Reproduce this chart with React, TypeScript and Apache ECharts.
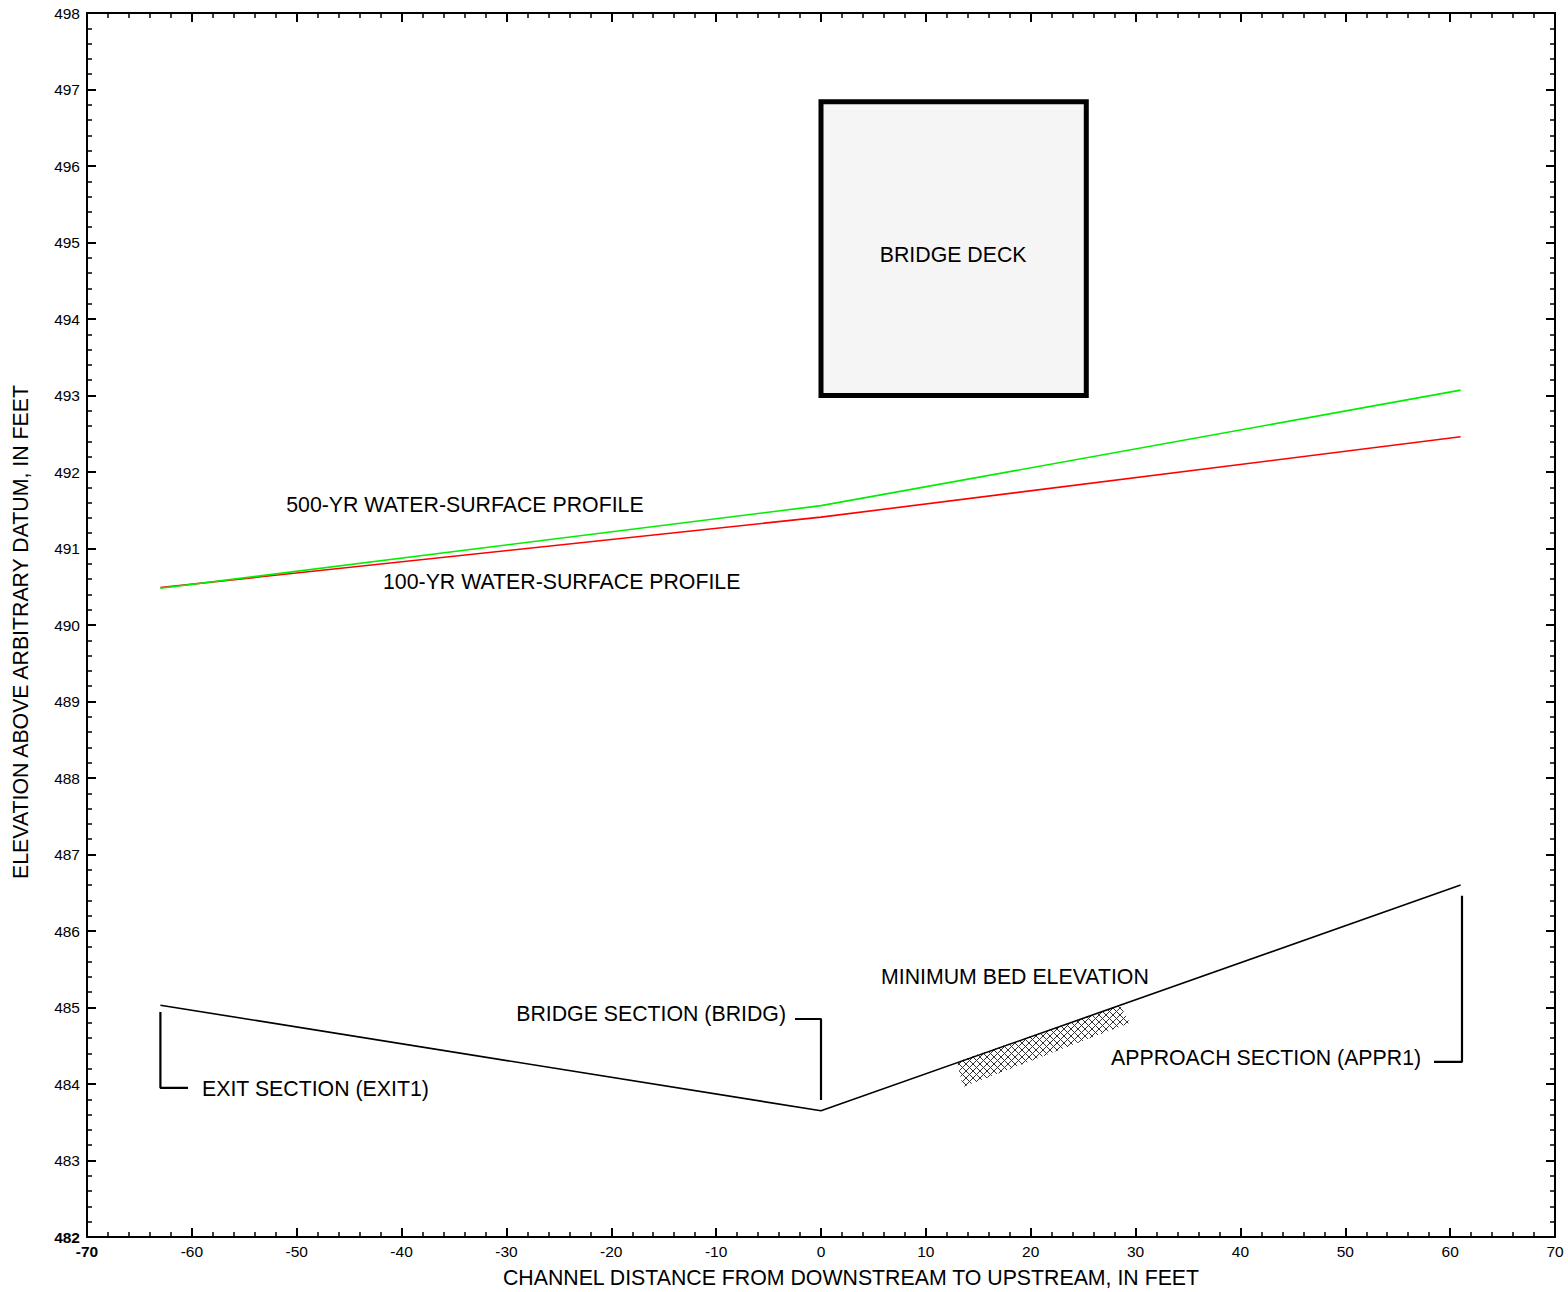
import React, { useEffect, useRef } from "react";
import * as echarts from "echarts";

const bedX = [-63, 0, 61];
const bedY = [485.03, 483.65, 486.6];
const profX = [-63, 0, 61];
const ws100 = [490.49, 491.41, 492.46];
const ws500 = [490.48, 491.56, 493.07];
const deck = [0, 493.0, 25.3, 496.84];
const hatchPoly = [
  [12.97, 484.29],
  [28.5, 485.03],
  [29.47, 484.8],
  [13.54, 483.96],
];
const leaderExit = [
  [-63, 484.94],
  [-63, 483.95],
  [-60.37, 483.95],
];
const leaderBridge = [
  [-2.48, 484.85],
  [0, 484.85],
  [0, 483.79],
];
const leaderAppr = [
  [61.13, 486.46],
  [61.13, 484.29],
  [58.46, 484.29],
];
const labelX = [12.6, -51.0, -41.77, 5.72, -3.34, 27.66, -59.03];
const labelY = [494.84, 491.57, 490.56, 485.4, 484.92, 484.34, 483.93];
const labelText = [
  "BRIDGE DECK",
  "500-YR WATER-SURFACE PROFILE",
  "100-YR WATER-SURFACE PROFILE",
  "MINIMUM BED ELEVATION",
  "BRIDGE SECTION (BRIDG)",
  "APPROACH SECTION (APPR1)",
  "EXIT SECTION (EXIT1)",
];
const labelAlign = ["center", "left", "left", "left", "right", "left", "left"];

const FONT = "'Liberation Sans', Arial, sans-serif";
const TXT = 21.3;

function zip(xs: number[], ys: number[]) {
  return xs.map((x, i) => [x, ys[i]]);
}

function clipLine(poly: number[][], sign: number, c: number) {
  const pts: number[][] = [];
  for (let i = 0; i < poly.length; i++) {
    const p = poly[i];
    const q = poly[(i + 1) % poly.length];
    const fp = p[0] + sign * p[1] - c;
    const fq = q[0] + sign * q[1] - c;
    if (fp * fq <= 0 && fp !== fq) {
      const t = fp / (fp - fq);
      pts.push([p[0] + t * (q[0] - p[0]), p[1] + t * (q[1] - p[1])]);
    }
  }
  if (pts.length < 2) return null;
  pts.sort((a, b) => a[0] - b[0]);
  return [pts[0], pts[pts.length - 1]];
}

function axisCommon(pos: string, showLabel: boolean, isX: boolean) {
  return {
    type: "value",
    position: pos,
    min: isX ? -70 : 482,
    max: isX ? 70 : 498,
    interval: isX ? 10 : 1,
    axisLine: { show: true, onZero: false, lineStyle: { color: "#000", width: 2 } },
    axisTick: { show: true, inside: true, length: 9, lineStyle: { color: "#000", width: 2 } },
    minorTick: { show: true, splitNumber: 5, length: 5, lineStyle: { color: "#000", width: 1.5 } },
    splitLine: { show: false },
    minorSplitLine: { show: false },
    axisLabel: {
      show: showLabel,
      color: "#000",
      fontSize: 15.5,
      fontFamily: FONT,
      margin: isX ? 6 : 7,
      formatter: (v: number) => {
        if ((isX && v === -70) || (!isX && v === 482)) return "{b|" + v + "}";
        return "{n|" + v + "}";
      },
      rich: {
        b: { fontWeight: "bold", fontSize: 15.5, fontFamily: FONT, color: "#000" },
        n: { fontSize: 15.5, fontFamily: FONT, color: "#000" },
      },
    },
  };
}

export default function App() {
  const ref = useRef<HTMLDivElement>(null);
  useEffect(() => {
    if (!ref.current) return;
    const chart = echarts.init(ref.current, null, { renderer: "svg" });
    const leaderSeries = (d: number[][]) => ({
      type: "line",
      data: d,
      symbol: "none",
      lineStyle: { color: "#000", width: 2.2 },
      silent: true,
      z: 3,
    });
    chart.setOption({
      animation: false,
      backgroundColor: "#fff",
      grid: { left: 87, right: 13, top: 13, bottom: 55, containLabel: false },
      xAxis: [axisCommon("bottom", true, true), axisCommon("top", false, true)],
      yAxis: [axisCommon("left", true, false), axisCommon("right", false, false)],
      graphic: [
        {
          type: "text",
          x: 851,
          y: 1278,
          style: {
            text: "CHANNEL DISTANCE FROM DOWNSTREAM TO UPSTREAM, IN FEET",
            align: "center",
            verticalAlign: "middle",
            fontSize: TXT,
            fontFamily: FONT,
            fill: "#000",
          },
        },
        {
          type: "text",
          x: 21,
          y: 632,
          rotation: Math.PI / 2,
          style: {
            text: "ELEVATION ABOVE ARBITRARY DATUM, IN FEET",
            align: "center",
            verticalAlign: "middle",
            fontSize: TXT,
            fontFamily: FONT,
            fill: "#000",
          },
        },
      ],
      series: [
        {
          type: "custom",
          renderItem: (params: any, api: any) => {
            const p0 = api.coord([deck[0], deck[3]]);
            const p1 = api.coord([deck[2], deck[1]]);
            return {
              type: "rect",
              shape: { x: p0[0], y: p0[1], width: p1[0] - p0[0], height: p1[1] - p0[1] },
              style: { fill: "#f5f5f5", stroke: "#000", lineWidth: 5 },
            };
          },
          data: [[deck[0], deck[1]]],
          silent: true,
          z: 2,
        },
        {
          type: "custom",
          renderItem: (params: any, api: any) => {
            const poly = hatchPoly.map((p) => api.coord(p));
            const children: any[] = [];
            const step = 7;
            for (const sign of [-1, 1]) {
              const vals = poly.map((p) => p[0] + sign * p[1]);
              const lo = Math.floor(Math.min(...vals) / step) * step;
              const hi = Math.max(...vals);
              for (let c = lo; c <= hi; c += step) {
                const seg = clipLine(poly, sign, c);
                if (!seg) continue;
                children.push({
                  type: "line",
                  shape: { x1: seg[0][0], y1: seg[0][1], x2: seg[1][0], y2: seg[1][1] },
                  style: { stroke: "#333", lineWidth: 1 },
                });
              }
            }
            return { type: "group", children };
          },
          data: [hatchPoly[0]],
          silent: true,
          z: 2,
        },
        {
          type: "line",
          data: zip(bedX, bedY),
          symbol: "none",
          lineStyle: { color: "#000", width: 1.6 },
          silent: true,
          z: 3,
        },
        {
          type: "line",
          data: zip(profX, ws100),
          symbol: "none",
          lineStyle: { color: "#ff0000", width: 1.6 },
          silent: true,
          z: 3,
        },
        {
          type: "line",
          data: zip(profX, ws500),
          symbol: "none",
          lineStyle: { color: "#00ee00", width: 1.6 },
          silent: true,
          z: 4,
        },
        leaderSeries(leaderExit),
        leaderSeries(leaderBridge),
        leaderSeries(leaderAppr),
        {
          type: "custom",
          renderItem: (params: any, api: any) => {
            const i = params.dataIndex;
            const p = api.coord([labelX[i], labelY[i]]);
            return {
              type: "text",
              x: p[0],
              y: p[1],
              style: {
                text: labelText[i],
                align: labelAlign[i],
                verticalAlign: "middle",
                fontSize: TXT,
                fontFamily: FONT,
                fill: "#000",
              },
            };
          },
          data: zip(labelX, labelY),
          silent: true,
          z: 5,
        },
      ],
    });
    return () => chart.dispose();
  }, []);
  return (
    <div
      ref={ref}
      style={{ position: "fixed", left: 0, top: 0, width: 1568, height: 1292, background: "#fff" }}
    />
  );
}
